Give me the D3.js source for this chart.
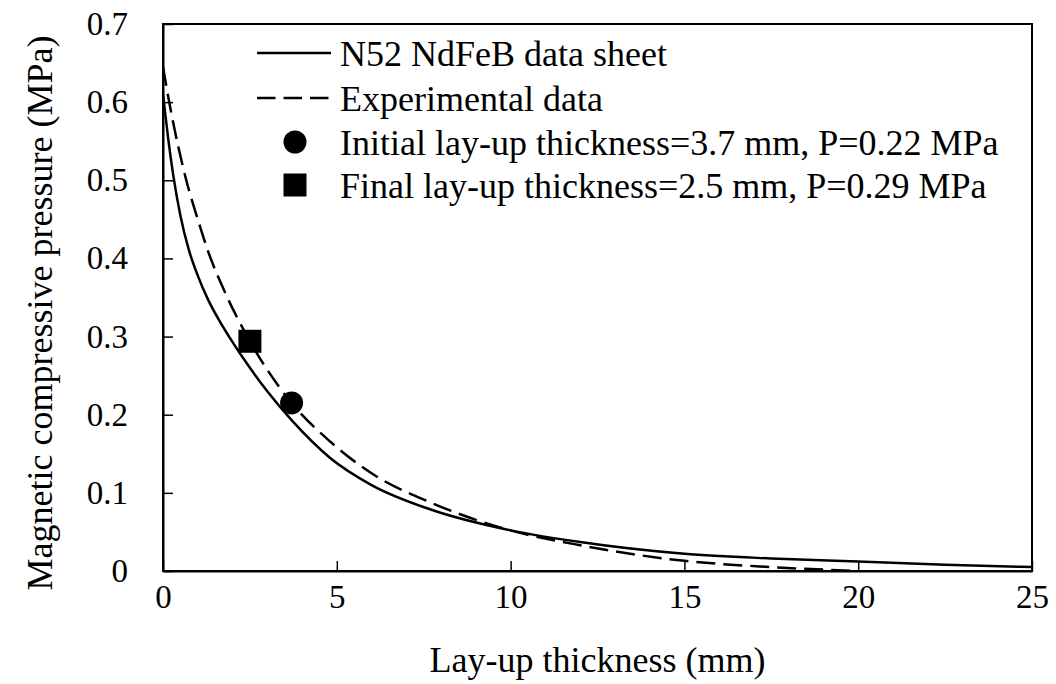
<!DOCTYPE html>
<html><head><meta charset="utf-8">
<script src="https://cdn.jsdelivr.net/npm/d3@7"></script>
<style>body{margin:0;background:#fff;} text{font-family:"Liberation Serif","Times New Roman",serif;fill:#000;}</style>
</head><body><svg id="c" width="1056" height="684"></svg>
<script>
const xTicks = [0,5,10,15,20,25];
const yTicks = [0,0.1,0.2,0.3,0.4,0.5,0.6,0.7];
const yTickLabels = ["0","0.1","0.2","0.3","0.4","0.5","0.6","0.7"];
const datasheetX = [0,0.15,0.3,0.5,0.75,1.0,1.3,1.6,1.9,2.5,3.0,3.7,4.8,6,7.68,10,12,15,17.5,20,22.5,25];
const datasheetY = [0.61,0.553,0.505,0.455,0.41,0.378,0.347,0.322,0.3,0.26,0.23,0.193,0.145,0.11,0.079,0.052,0.037,0.022,0.016,0.012,0.008,0.005];
const expX = [0,0.2,0.67,1.0,1.29,1.8,2.4,3.7,4.8,6,7.68,10,12,15,17.5,20];
const expY = [0.645,0.595,0.5,0.45,0.41,0.355,0.302,0.215,0.166,0.125,0.088,0.052,0.033,0.013,0.005,0.0];
const pointsX = [3.7,2.5];
const pointsY = [0.215,0.294];
const legendLabels = ["N52 NdFeB data sheet","Experimental data","Initial lay-up thickness=3.7 mm, P=0.22 MPa","Final lay-up thickness=2.5 mm, P=0.29 MPa"];
const xTitle = "Lay-up thickness (mm)";
const yTitle = "Magnetic compressive pressure (MPa)";

const svg = d3.select("#c");
const L=163,R=1032,T=24,B=571;
const x = d3.scaleLinear().domain([0,25]).range([L,R]);
const y = d3.scaleLinear().domain([0,0.7]).range([B,T]);
const fsTick = 33, fs = 36;

// frame
svg.append("rect").attr("x",L).attr("y",T).attr("width",R-L).attr("height",B-T)
  .attr("fill","none").attr("stroke","#000").attr("stroke-width",2);

// x axis
const xa = svg.append("g").attr("transform",`translate(0,${B})`)
  .call(d3.axisBottom(x).tickValues(xTicks).tickSizeInner(-10).tickSizeOuter(0).tickPadding(14).tickFormat(d3.format("d")));
xa.select(".domain").attr("stroke","#000").attr("stroke-width",2);
xa.selectAll(".tick line").attr("stroke","#000").attr("stroke-width",1.5);
xa.selectAll(".tick text").attr("font-size",fsTick).attr("font-family","Liberation Serif");

// y axis
const ya = svg.append("g").attr("transform",`translate(${L},0)`)
  .call(d3.axisLeft(y).tickValues(yTicks).tickSizeInner(-10).tickSizeOuter(0).tickPadding(35).tickFormat((d,i)=>yTickLabels[i]));
ya.select(".domain").attr("stroke","#000").attr("stroke-width",2);
ya.selectAll(".tick line").attr("stroke","#000").attr("stroke-width",1.5);
ya.selectAll(".tick text").attr("font-size",fsTick).attr("font-family","Liberation Serif");

// titles
svg.append("text").attr("x",(L+R)/2).attr("y",672).attr("text-anchor","middle").attr("font-size",fs).text(xTitle);
svg.append("text").attr("transform",`translate(52,313) rotate(-90)`).attr("text-anchor","middle").attr("font-size",fs).text(yTitle);

// curves
const line = d3.line().x(d=>x(d[0])).y(d=>y(d[1])).curve(d3.curveMonotoneX);
svg.append("clipPath").attr("id","pc").append("rect").attr("x",L).attr("y",T).attr("width",R-L).attr("height",B-T);
svg.append("path").datum(datasheetX.map((v,i)=>[v,datasheetY[i]])).attr("d",line)
  .attr("fill","none").attr("stroke","#000").attr("stroke-width",2.5).attr("clip-path","url(#pc)");
svg.append("path").datum(expX.map((v,i)=>[v,expY[i]])).attr("d",line)
  .attr("fill","none").attr("stroke","#000").attr("stroke-width",2.5).attr("stroke-dasharray","19,8").attr("clip-path","url(#pc)");

// markers
svg.append("circle").attr("cx",x(pointsX[0])).attr("cy",y(pointsY[0])).attr("r",11.5).attr("fill","#000");
svg.append("rect").attr("x",x(pointsX[1])-11.5).attr("y",y(pointsY[1])-11.5).attr("width",23).attr("height",23).attr("fill","#000");

// legend
const lg = svg.append("g");
const rowsY = [53,98,142,185];
lg.append("line").attr("x1",257).attr("x2",331).attr("y1",rowsY[0]).attr("y2",rowsY[0]).attr("stroke","#000").attr("stroke-width",2.5);
lg.append("line").attr("x1",257).attr("x2",331).attr("y1",rowsY[1]).attr("y2",rowsY[1]).attr("stroke","#000").attr("stroke-width",2.5).attr("stroke-dasharray","18.5,8");
lg.append("circle").attr("cx",295).attr("cy",rowsY[2]).attr("r",11.5).attr("fill","#000");
lg.append("rect").attr("x",283.5).attr("y",rowsY[3]-11.5).attr("width",23).attr("height",23).attr("fill","#000");
legendLabels.forEach((t,i)=>{
  lg.append("text").attr("x",340).attr("y",rowsY[i]).attr("dy","0.35em").attr("font-size",fs).text(t);
});
</script></body></html>
